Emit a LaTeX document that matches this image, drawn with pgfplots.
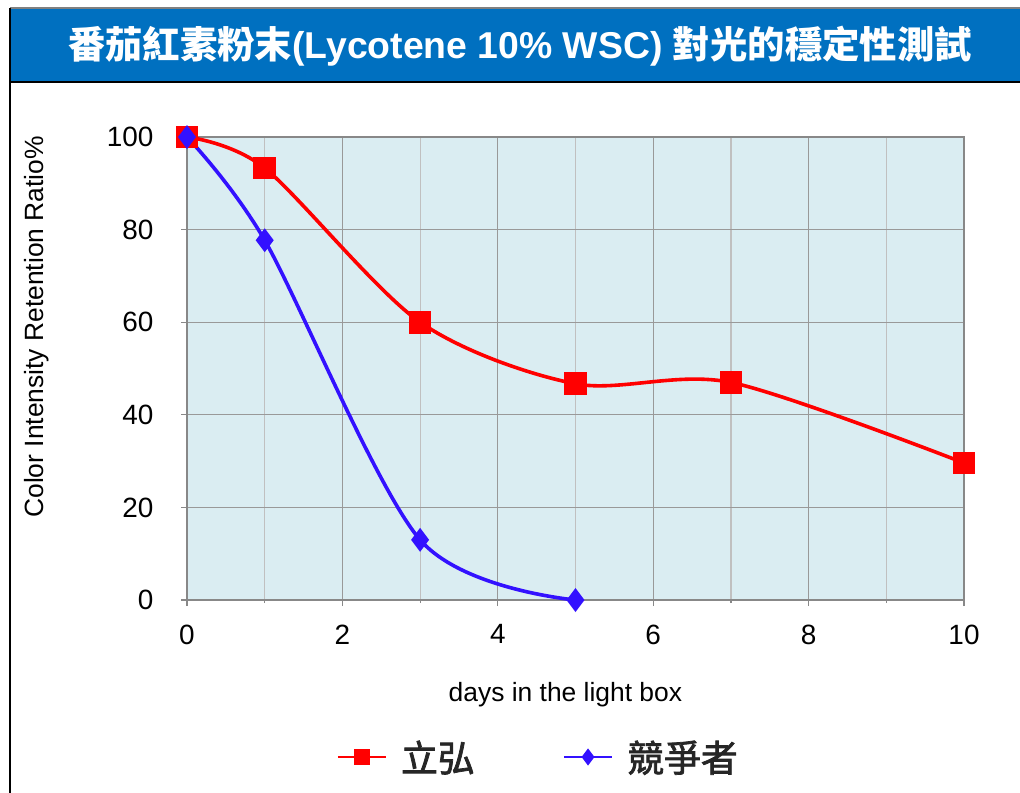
\documentclass[border=0pt]{standalone}
\usepackage{fontspec}
\setmainfont{Liberation Sans}
\newfontfamily\cjk{Noto Sans CJK TC}
\newfontfamily\cjkm[FakeBold=2]{Noto Sans CJK TC}
\usepackage{pgfplots}
\pgfplotsset{compat=1.18}
\definecolor{titleblue}{HTML}{0070C0}
\definecolor{bgblue}{HTML}{DAEDF2}
\definecolor{gridmaj}{HTML}{999999}
\definecolor{gridmin}{HTML}{C0C0C0}
\definecolor{axisgray}{HTML}{888888}
\definecolor{lineblue}{HTML}{3311FF}
\definecolor{linered}{HTML}{FF0000}
\begin{document}
\begin{tikzpicture}
\useasboundingbox (0,0) rectangle (1020bp,-793bp);
\fill[titleblue] (10bp,-9bp) rectangle (1022bp,-82bp);
\draw[line width=1.5bp, gray] (1022bp,-8bp) -- (10bp,-8bp);
\draw[line width=2.5bp] (10bp,-8bp) -- (10bp,-795bp);
\draw[line width=2.5bp] (10bp,-82bp) -- (1022bp,-82bp);
\node[white, font=\bfseries\fontsize{37.5}{40}\selectfont, inner sep=0pt] at (520bp,-46bp)
  {{\cjk 番茄紅素粉末}(Lycotene 10\% WSC) {\cjk 對光的穩定性測試}};
\begin{axis}[
  at={(187bp,-600bp)}, anchor=south west,
  scale only axis, width=777bp, height=463bp,
  xmin=0, xmax=10, ymin=0, ymax=100,
  xtick={0,2,...,10}, minor xtick={1,3,...,9},
  ytick={0,20,...,100},
  grid=both,
  major grid style={color=gridmaj, line width=1.2bp},
  minor grid style={color=gridmin, line width=1.2bp},
  axis line style={color=axisgray, line width=1.5bp},
  axis background/.style={fill=bgblue},
  tick align=outside, tick pos=left,
  major tick length=6bp, minor tick length=3bp,
  tick style={color=axisgray, line width=1.2bp},
  ticklabel style={font=\fontsize{28}{30}\selectfont},
  /pgf/number format/assume math mode=true,
  yticklabel style={xshift=-24bp},
  xticklabel style={yshift=-15bp},
  xlabel={days in the light box},
  ylabel={Color Intensity Retention Ratio\%},
  label style={font=\fontsize{26.5}{30}\selectfont},
  x label style={at={(axis description cs:0.487,-0.197)}, anchor=center, yshift=-3bp},
  y label style={at={(axis description cs:-0.193,0.59)}, anchor=center, rotate=0},
  legend columns=2,
  legend style={at={(axis description cs:0.452,-0.339)}, anchor=center,
    draw=none, fill=none, font=\cjkm\fontsize{37}{40}\selectfont,
    text=black!85,
    /tikz/every odd column/.append style={column sep=12bp},
    /tikz/every even column/.append style={column sep=86bp}},
  legend image code/.code={
    \draw[#1, line width=2.5bp, mark=none] (0bp,0bp) -- (48bp,0bp);
    \draw[#1, line width=2.5bp, mark size=6.5bp] plot coordinates {(24bp,0bp)};},
]
\addplot[linered, line width=3.6bp, smooth, mark=square*, mark size=9.5bp,
  mark options={solid}]
  coordinates {(0,100) (1,93.3) (3,60) (5,46.7) (7,47) (10,29.6)};
\addlegendentry{立弘}
\addplot[lineblue, line width=3.6bp, smooth, mark=diamond*, mark size=9bp]
  coordinates {(0,100) (1,77.7) (3,13) (5,0)};
\addlegendentry{競爭者}
\end{axis}
\end{tikzpicture}
\end{document}
